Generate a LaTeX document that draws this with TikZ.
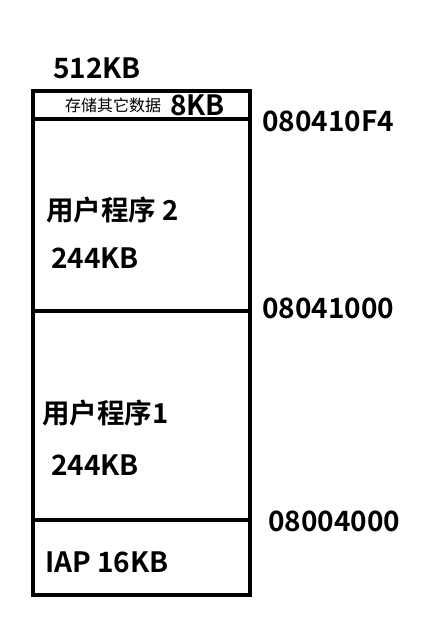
\documentclass[tikz,border=0pt]{standalone}
\usepackage{fontspec}
\setmainfont{Noto Sans CJK SC}[BoldFont={* Bold}]
\begin{document}
\begin{tikzpicture}[x=1pt,y=-1pt,
  lbl/.style={anchor=west,inner sep=0pt,font=\bfseries\fontsize{28}{32}\selectfont},
  cjk/.style={anchor=west,inner sep=0pt,font=\bfseries\fontsize{27.5}{31}\selectfont},
  small/.style={anchor=west,inner sep=0pt,font=\fontsize{16}{18}\selectfont},
  box/.style={draw,line width=4pt}]
\useasboundingbox (0,0) rectangle (437,620);
\draw[box] (33,91) rectangle (250,595);
\coordinate (l1) at (33,119); \coordinate (r1) at (250,119);
\coordinate (l2) at (33,311); \coordinate (r2) at (250,311);
\coordinate (l3) at (33,520); \coordinate (r3) at (250,520);
\draw[box] (l1) -- (r1);
\draw[box] (l2) -- (r2);
\draw[box] (l3) -- (r3);
\node[lbl] (total) at (53,68) {512KB};
\node[small] (other) at (65,105) {存储其它数据};
\node[lbl] (okb) at (170,105) {8KB};
\node[lbl] (a1) at (262,121) {080410F4};
\node[cjk] (app2) at (46,210) {用户程序 2};
\node[lbl] (s2) at (51,258) {244KB};
\node[lbl] (a2) at (262,308) {08041000};
\node[cjk] (app1) at (42,413) {用户程序1};
\node[lbl] (s1) at (51,465) {244KB};
\node[lbl] (a3) at (268,521) {08004000};
\node[lbl] (iap) at (45,562) {IAP 16KB};
\end{tikzpicture}
\end{document}
